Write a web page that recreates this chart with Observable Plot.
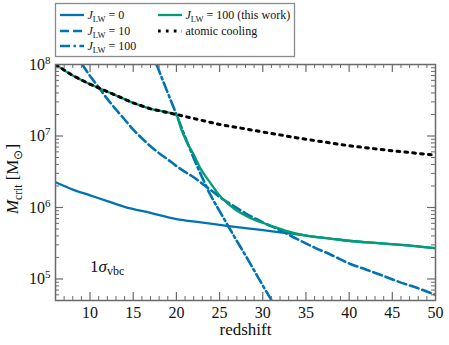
<!DOCTYPE html>
<html><head><meta charset="utf-8">
<script src="https://cdn.jsdelivr.net/npm/d3@7"></script>
<script src="https://cdn.jsdelivr.net/npm/@observablehq/plot@0.6"></script>
<style>body{margin:0;background:#fff} svg{display:block}</style>
</head><body><div id="chart"></div><script>
// ---- data ----
const zJ0   = [6, 8, 10, 12, 14, 17, 20, 22.8, 26.3, 29.8, 32, 34, 35.2, 38, 40.2, 43, 46, 50];
const mJ0   = [2.25e6, 1.78e6, 1.48e6, 1.23e6, 1.02e6, 8.4e5, 6.9e5, 6.2e5, 5.45e5, 4.85e5, 4.5e5, 4.2e5, 4.0e5, 3.65e5, 3.4e5, 3.2e5, 3.0e5, 2.7e5];
const zJ10  = [9.1, 10, 11, 12, 13, 14, 15, 16, 17, 18, 19, 20, 21, 22, 23, 24, 25, 26, 28, 30, 32, 34, 36, 38, 40, 42, 44, 46, 48, 50];
const mJ10  = [1.0e8, 6.9e7, 4.8e7, 3.3e7, 2.35e7, 1.7e7, 1.23e7, 9.3e6, 7.2e6, 5.75e6, 4.7e6, 3.8e6, 3.15e6, 2.65e6, 2.15e6, 1.75e6, 1.4e6, 1.17e6, 8.3e5, 6.2e5, 4.8e5, 3.6e5, 2.75e5, 2.15e5, 1.65e5, 1.35e5, 1.1e5, 8.9e4, 7.4e4, 6.0e4];
const zJ100 = [17.7, 18, 19, 20, 21, 22, 23, 24, 25, 26, 27, 28, 29, 30, 31, 31.3];
const mJ100 = [1.0e8, 8.1e7, 4.0e7, 2.0e7, 9.8e6, 4.9e6, 2.6e6, 1.45e6, 8.9e5, 5.5e5, 3.4e5, 2.14e5, 1.32e5, 8.1e4, 5.1e4, 4.5e4];
const zThis = [6, 8, 10, 11, 13, 15, 17, 20, 20.5, 21.1, 22, 22.8, 24, 24.75, 26, 26.7, 28.6, 30.5, 32.5, 35.2, 38, 40.2, 43, 46, 50];
const mThis = [1.0e8, 7.0e7, 5.3e7, 4.7e7, 3.7e7, 2.9e7, 2.4e7, 1.95e7, 1.3e7, 8.7e6, 5.5e6, 3.5e6, 2.15e6, 1.6e6, 1.12e6, 9.6e5, 7.1e5, 5.8e5, 4.8e5, 4.0e5, 3.65e5, 3.4e5, 3.2e5, 3.0e5, 2.7e5];
const zAtom = [6, 8, 10, 11, 13, 15, 17, 20, 25, 30, 34, 40, 45, 50];
const mAtom = [1.0e8, 7.0e7, 5.3e7, 4.7e7, 3.7e7, 2.9e7, 2.4e7, 2.0e7, 1.45e7, 1.14e7, 9.4e6, 7.3e6, 6.2e6, 5.4e6];

// ---- ticks ----
const xMajor = [10, 15, 20, 25, 30, 35, 40, 45];
const xMinor = [7,8,9,11,12,13,14,16,17,18,19,21,22,23,24,26,27,28,29,31,32,33,34,36,37,38,39,41,42,43,44,46,47,48,49];
const xLabels = [10, 15, 20, 25, 30, 35, 40, 45, 50];
const yMajor = [1e5, 1e6, 1e7];
const yLabels = [1e5, 1e6, 1e7, 1e8];
const yMinor = [6e4,7e4,8e4,9e4, 2e5,3e5,4e5,5e5,6e5,7e5,8e5,9e5, 2e6,3e6,4e6,5e6,6e6,7e6,8e6,9e6, 2e7,3e7,4e7,5e7,6e7,7e7,8e7,9e7];

const BLUE = "#0173B2", GREEN = "#029E73";
const rows = (zs, ms) => zs.map((z, i) => ({z, m: ms[i]}));

const W = 449, H = 345, mL = 55, mR = 14, mT = 64, mB = 45;
const fw = W - mL - mR, fh = H - mT - mB;
const TC = "#6a6a6a";
const DASH = "9,4", DASHDOT = "10,3.5,2.4,3.5", DOT = "2.7,5.2";

const lineOpts = (stroke, sw, dash) => ({x: "z", y: "m", stroke, strokeWidth: sw, strokeDasharray: dash, curve: "monotone-x", clip: true});

const plot = Plot.plot({
  width: W, height: H,
  marginLeft: mL, marginRight: mR, marginTop: mT, marginBottom: mB,
  style: {fontFamily: "'Liberation Serif', 'Times New Roman', serif", fontSize: "16px", background: "white", overflow: "visible", color: "#111"},
  x: {domain: [6, 50]},
  y: {type: "log", domain: [5e4, 1e8]},
  marks: [
    Plot.line(rows(zJ0, mJ0), lineOpts(BLUE, 2.3, null)),
    Plot.line(rows(zJ10, mJ10), lineOpts(BLUE, 2.6, DASH)),
    Plot.line(rows(zJ100, mJ100), lineOpts(BLUE, 2.6, DASHDOT)),
    Plot.line(rows(zThis, mThis), lineOpts(GREEN, 2.3, null)),
    Plot.line(rows(zAtom, mAtom), {...lineOpts("black", 3, DOT), curve: "linear"}),
    // inward ticks, all four sides
    Plot.ruleX(xMajor, {x: d => d, insetTop: fh - 8, stroke: TC, strokeWidth: 1.2}),
    Plot.ruleX(xMajor, {x: d => d, insetBottom: fh - 8, stroke: TC, strokeWidth: 1.2}),
    Plot.ruleX(xMinor, {x: d => d, insetTop: fh - 4, stroke: TC, strokeWidth: 1}),
    Plot.ruleX(xMinor, {x: d => d, insetBottom: fh - 4, stroke: TC, strokeWidth: 1}),
    Plot.ruleY(yMajor, {y: d => d, insetRight: fw - 8, stroke: TC, strokeWidth: 1.2}),
    Plot.ruleY(yMajor, {y: d => d, insetLeft: fw - 8, stroke: TC, strokeWidth: 1.2}),
    Plot.ruleY(yMinor, {y: d => d, insetRight: fw - 4, stroke: TC, strokeWidth: 1}),
    Plot.ruleY(yMinor, {y: d => d, insetLeft: fw - 4, stroke: TC, strokeWidth: 1}),
    Plot.frame({stroke: TC, strokeWidth: 1.5}),
    Plot.axisX({ticks: xLabels, tickSize: 0, tickPadding: 6, label: null, fontSize: 16}),
    Plot.axisY({ticks: yLabels, tickSize: 0, tickPadding: 5, label: null, fontSize: 16,
      tickFormat: d => String(Math.round(Math.log10(d)))}),
    Plot.text(["redshift"], {frameAnchor: "bottom", dy: 34, fontSize: 17, text: d => d})
  ]
});

document.getElementById("chart").appendChild(plot);
const svg = d3.select(plot);

// superscript exponents on y tick labels
svg.selectAll('g[aria-label="y-axis tick label"] text').each(function() {
  const t = d3.select(this);
  const e = t.text();
  t.text("");
  t.append("tspan").text("10");
  t.append("tspan").attr("dy", "-0.55em").attr("font-size", 11).text(e);
});

// y-axis label
const yl = svg.append("text")
  .attr("transform", `translate(18,${mT + fh / 2 - 3}) rotate(-90)`)
  .attr("text-anchor", "middle").attr("font-size", 17).attr("fill", "#111");
yl.append("tspan").attr("font-style", "italic").text("M");
yl.append("tspan").attr("font-size", 11.5).attr("dy", 4).text("crit");
yl.append("tspan").attr("dy", -4).text(" [M");
yl.append("tspan").attr("font-size", 11.5).attr("dy", 4).text("\u2299");
yl.append("tspan").attr("dy", -4).text("]");

// 1 sigma annotation
const sg = svg.append("text").attr("x", 90).attr("y", 272).attr("font-size", 17)
  .attr("text-anchor", "start").attr("fill", "#111");
sg.append("tspan").text("1");
sg.append("tspan").attr("font-style", "italic").text("\u03C3");
sg.append("tspan").attr("font-size", 12).attr("dy", 3).text("vbc");

// legend
const lg = svg.append("g");
lg.append("rect").attr("x", 55.5).attr("y", 3.5).attr("width", 239).attr("height", 53)
  .attr("fill", "white").attr("stroke", "#8a8a8a").attr("stroke-width", 1.3);
const entries = [
  {x: 60, y: 15, stroke: BLUE, sw: 2.3, dash: null, lab: "0"},
  {x: 60, y: 31, stroke: BLUE, sw: 2.6, dash: DASH, lab: "10"},
  {x: 60, y: 46, stroke: BLUE, sw: 2.6, dash: DASHDOT, lab: "100"},
  {x: 158, y: 15, stroke: GREEN, sw: 2.3, dash: null, lab: "100 (this work)"},
  {x: 158, y: 31, stroke: "black", sw: 3, dash: DOT, lab: null, text: "atomic cooling"}
];
for (const e of entries) {
  lg.append("line").attr("x1", e.x).attr("x2", e.x + 24).attr("y1", e.y).attr("y2", e.y)
    .attr("stroke", e.stroke).attr("stroke-width", e.sw).attr("stroke-dasharray", e.dash);
  const t = lg.append("text").attr("x", e.x + 27.5).attr("y", e.y + 4).attr("font-size", 12)
    .attr("text-anchor", "start").attr("fill", "#111");
  if (e.lab !== null) {
    t.append("tspan").attr("font-style", "italic").text("J");
    t.append("tspan").attr("font-size", 8.5).attr("dy", 2.5).text("LW");
    t.append("tspan").attr("dy", -2.5).text(" = " + e.lab);
  } else {
    t.text(e.text);
  }
}
</script></body></html>
